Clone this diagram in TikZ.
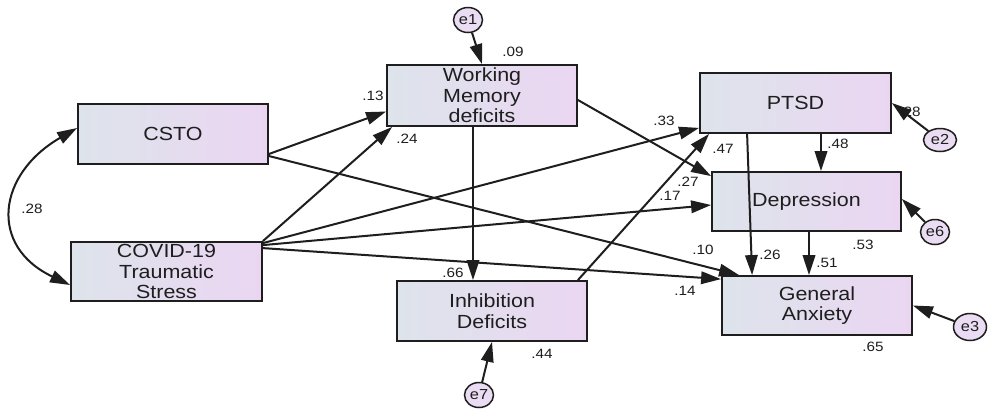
\documentclass[tikz,border=0pt]{standalone}
\usepackage{fontspec}
\setmainfont{Liberation Sans}[FakeStretch=1.13]
\usetikzlibrary{arrows.meta,shapes.geometric,calc}
\definecolor{boxL}{RGB}{221,228,235}
\definecolor{boxR}{RGB}{235,214,242}
\definecolor{errfill}{RGB}{234,220,242}
\definecolor{ink}{RGB}{30,30,30}
\begin{document}
\begin{tikzpicture}[x=1pt,y=-1pt,
  varbox/.style={draw=ink,line width=1.8pt,rectangle,left color=boxL,right color=boxR,
    minimum width=190pt,minimum height=60pt,inner sep=0pt,align=center,text=ink,
    font=\fontsize{19}{20.5}\selectfont},
  errnode/.style={draw=ink,line width=1.5pt,ellipse,fill=errfill,inner sep=0pt,
    minimum width=29pt,minimum height=25pt,text=ink,font=\fontsize{14.5}{14.5}\selectfont},
  tip/.tip={Triangle[length=20pt,width=12.5pt]},
  path/.style={draw=ink,line width=2pt,-tip},
  coef/.style={text=ink,font=\fontsize{13.5}{13.5}\selectfont,inner sep=0pt}]
\useasboundingbox[fill=white] (0,0) rectangle (991,408);

% boxes
\node[varbox] (csto) at (173,134) {CSTO};
\node[varbox,minimum height=61pt] (wm) at (482,95.5) {Working\\Memory\\deficits};
\node[varbox,minimum width=191pt] (ptsd) at (795.5,103) {PTSD};
\node[varbox,minimum width=189pt,minimum height=59pt] (dep) at (806.5,201.5) {Depression};
\node[varbox,minimum height=59pt] (ga) at (817,305.5) {General\\Anxiety};
\node[varbox,minimum width=191pt,minimum height=59pt] (covid) at (166.5,271.5) {COVID-19\\Traumatic\\Stress};
\node[varbox] (inh) at (492,311) {Inhibition\\Deficits};

% error terms
\node[errnode] (e1) at (468,20) {e1};
\node[errnode,minimum width=33pt,minimum height=23pt] (e2) at (940,140) {e2};
\node[errnode] (e6) at (935,232) {e6};
\node[errnode,minimum width=33pt,minimum height=27pt] (e3) at (970,327) {e3};
\node[errnode] (e7) at (479,395) {e7};

% coefficients
\node[coef] (l09) at (513,52) {.09};
\node[coef] (l13) at (373,96) {.13};
\node[coef] (l24) at (407,139) {.24};
\node[coef] (l33) at (664,121) {.33};
\node[coef] (l47) at (723,149) {.47};
\node[coef] (l27) at (688,182) {.27};
\node[coef] (l17) at (670,196) {.17};
\node[coef] (l48) at (838,144) {.48};
\node[coef] (l28b) at (910,112) {.28};
\node[coef] (l53) at (863,245) {.53};
\node[coef] (l26) at (770,255) {.26};
\node[coef] (l51) at (827,263) {.51};
\node[coef] (l10) at (703,250) {.10};
\node[coef] (l14) at (685,291) {.14};
\node[coef] (l65) at (873,347) {.65};
\node[coef] (l28) at (32,209) {.28};
\node[coef] (l66) at (453,273) {.66};
\node[coef] (l44) at (542,354) {.44};

% paths
\draw[path] ([yshift=-20pt]csto.east) -- ([yshift=-16pt]wm.west);
\draw[path] ([yshift=-22pt]csto.east) -- ([xshift=18pt]ga.north west);
\draw[path] (covid.north east) -- ([xshift=6pt]wm.south west);
\draw[path] ([yshift=-2pt]covid.north east) -- ([yshift=6pt]ptsd.south west);
\draw[path] ([yshift=-4pt]covid.north east) -- ([yshift=-3.5pt]dep.west);
\draw[path] ([yshift=-7pt]covid.north east) -- ([yshift=-4pt]ga.north west);
\draw[path] ([xshift=-9pt]wm.south) -- ([xshift=-19pt]inh.north);
\draw[path] ([yshift=-4.5pt]wm.east) -- ([yshift=-5pt]dep.north west);
\draw[path] ([xshift=-10pt]inh.north east) -- ([xshift=10pt]ptsd.south west);
\draw[path] ([xshift=48pt]ptsd.south west) -- ([xshift=31pt]ga.north west);
\draw[path] ([xshift=25.5pt]ptsd.south) -- ([xshift=14.5pt]dep.north);
\draw[path] ([xshift=2.5pt]dep.south) -- ([xshift=-8pt]ga.north);

% error arrows
\draw[path] (e1) -- (wm.north);
\draw[path] (e2) -- (ptsd.east);
\draw[path] (e6) -- ([yshift=2.5pt]dep.east);
\draw[path] (e3) -- (ga.east);
\draw[path] (e7) -- (inh.south);

% covariance
\draw[draw=ink,line width=2pt,tip-tip]
  ([yshift=6pt]csto.west) .. controls (-2.5,174) and (-12,246) .. ([yshift=-13.5pt]covid.west);
\end{tikzpicture}
\end{document}
